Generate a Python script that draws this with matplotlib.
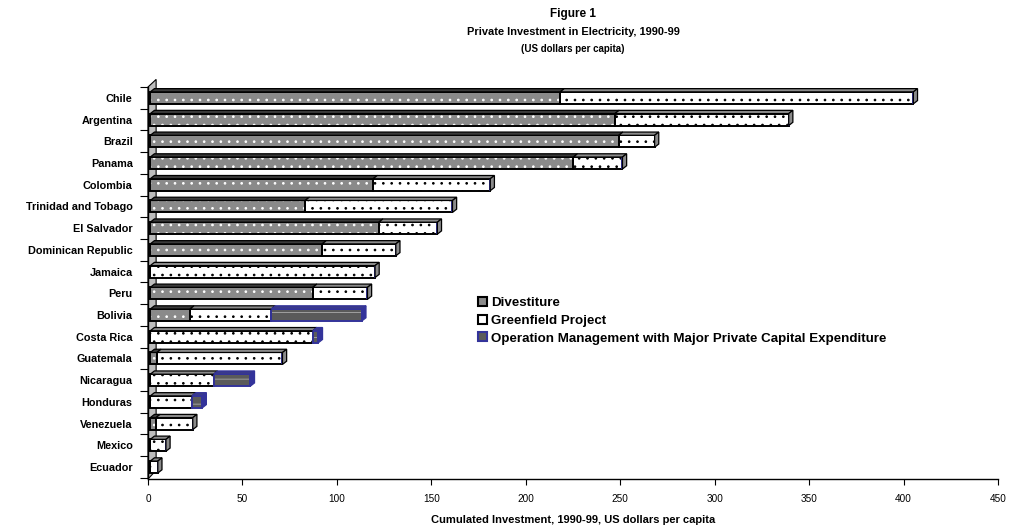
import matplotlib
matplotlib.use("Agg")
import matplotlib.pyplot as plt
from matplotlib.patches import Polygon, Patch
import numpy as np

countries = ["Chile", "Argentina", "Brazil", "Panama", "Colombia",
             "Trinidad and Tobago", "El Salvador", "Dominican Republic",
             "Jamaica", "Peru", "Bolivia", "Costa Rica", "Guatemala",
             "Nicaragua", "Honduras", "Venezuela", "Mexico", "Ecuador"]
divestiture = [217, 246, 248, 224, 118, 82, 121, 91, 0, 86, 21, 0, 3.5, 0, 0, 3, 0, 0]
greenfield = [187, 92, 19, 26, 62, 78, 31, 39, 119, 29, 43, 86, 66.5, 33.5, 22, 19.5, 8.3, 4]
operation = [0, 0, 0, 0, 0, 0, 0, 0, 0, 0, 48, 3, 0, 19.5, 5.5, 0, 0, 0]
series_names = ["Divestiture", "Greenfield Project",
                "Operation Management with Major Private Capital Expenditure"]
xticks = [0, 50, 100, 150, 200, 250, 300, 350, 400, 450]

FONT = ["Liberation Sans", "DejaVu Sans"]
plt.rcParams['font.family'] = FONT
plt.rcParams['hatch.linewidth'] = 0.7

fig = plt.figure(figsize=(10.10, 5.32), dpi=100)
ax = fig.add_axes([148/1010, 53/532, 850/1010, 392/532])

n = len(countries)
ypos = np.arange(n)
h = 0.55
dx = 2.2      # bar depth in data units (x)
dy = 0.15     # bar depth in data units (y)
x0 = 1.2      # bars start slightly in front of the wall

styles = [
    dict(face="#8a8a8a", hatch="..", hcol="white", edge="black", top="#3a3a3a", side="#555555"),
    dict(face="white", hatch="..", hcol="black", edge="black", top="#8a8a8a", side="#8a8a8a"),
    dict(face="#5a5a5a", hatch="--", hcol="#a0a0a0", edge="#33339a", top="#3a3a8a", side="#33339a"),
]

ax.set_xlim(0, 450)
ax.set_ylim(17.55, -0.5)

# back wall (3D look)
y_bot, y_top = 17.55, -0.5
wall_w = 4.3
wall = Polygon([[0, y_bot], [wall_w, y_bot - 0.4], [wall_w, y_top - 0.35], [0, y_top]],
               closed=True, facecolor="#bdbdbd", edgecolor="black", lw=0.8,
               clip_on=False, zorder=0.5)
ax.add_patch(wall)

lefts = np.full(n, x0)
all_series = [divestiture, greenfield, operation]
for vals, st in zip(all_series, styles):
    vals = np.array(vals, dtype=float)
    ax.barh(ypos, vals, left=lefts, height=h, color=st["face"], edgecolor=st["hcol"],
            hatch=st["hatch"], linewidth=0, zorder=3)
    ax.barh(ypos, vals, left=lefts, height=h, facecolor="none", edgecolor=st["edge"],
            linewidth=1.4, zorder=4)
    for i in range(n):
        if vals[i] <= 0:
            continue
        l, r = lefts[i], lefts[i] + vals[i]
        yt = ypos[i] - h/2
        ax.add_patch(Polygon([[l, yt], [r, yt], [r + dx, yt - dy], [l + dx, yt - dy]],
                             closed=True, facecolor=st["top"], edgecolor=st["edge"],
                             lw=0.9, zorder=5))
    lefts = lefts + vals

totals = lefts
for i in range(n):
    last = 0
    for k, vals in enumerate(all_series):
        if vals[i] > 0:
            last = k
    st = styles[last]
    r = totals[i]
    yt, yb = ypos[i] - h/2, ypos[i] + h/2
    ax.add_patch(Polygon([[r, yb], [r + dx, yb - dy], [r + dx, yt - dy], [r, yt]],
                         closed=True, facecolor=st["side"], edgecolor=st["edge"],
                         lw=0.9, zorder=5))

for s in ["top", "right"]:
    ax.spines[s].set_visible(False)
ax.spines["left"].set_linewidth(1.0)
ax.spines["bottom"].set_linewidth(1.0)
ax.spines["left"].set_zorder(6)

ax.set_xticks(xticks)
ax.set_xticklabels([str(t) for t in xticks], fontsize=7.2,
                   family=["Liberation Sans Narrow", "Liberation Sans", "DejaVu Sans"])
ax.tick_params(axis="x", length=4, width=0.8, pad=7)

ax.set_yticks(np.arange(-0.5, n, 1.0))
ax.set_yticklabels([])
ax.set_yticks(ypos, minor=True)
ax.set_yticklabels(countries, minor=True, fontsize=7.8, fontweight="bold")
ax.tick_params(axis="y", which="major", length=6, width=0.8)
ax.tick_params(axis="y", which="minor", length=0, pad=11)

cx = 573/1010
fig.text(cx, 1 - 14/532, "Figure 1", ha="center", va="center", fontsize=8.5, fontweight="bold")
fig.text(cx, 1 - 32/532, "Private Investment in Electricity, 1990-99", ha="center", va="center",
         fontsize=7.9, fontweight="bold")
fig.text(cx, 1 - 49/532, "(US dollars per capita)", ha="center", va="center",
         fontsize=7, fontweight="bold")
fig.text(cx, 1 - 520/532, "Cumulated Investment, 1990-99, US dollars per capita",
         ha="center", va="center", fontsize=8, fontweight="bold")

handles = [Patch(facecolor=st["face"], edgecolor=st["edge"], lw=1.5) for st in styles]
leg = ax.legend(handles, series_names, loc="upper left", bbox_to_anchor=(478/1010, 1 - 297/532),
                bbox_transform=fig.transFigure, frameon=False, handlelength=0.65, handleheight=0.65,
                handletextpad=0.3, labelspacing=0.42, borderpad=0, borderaxespad=0,
                prop=dict(family=FONT, weight="bold", size=9.6))

fig.savefig("out.png", dpi=100)
